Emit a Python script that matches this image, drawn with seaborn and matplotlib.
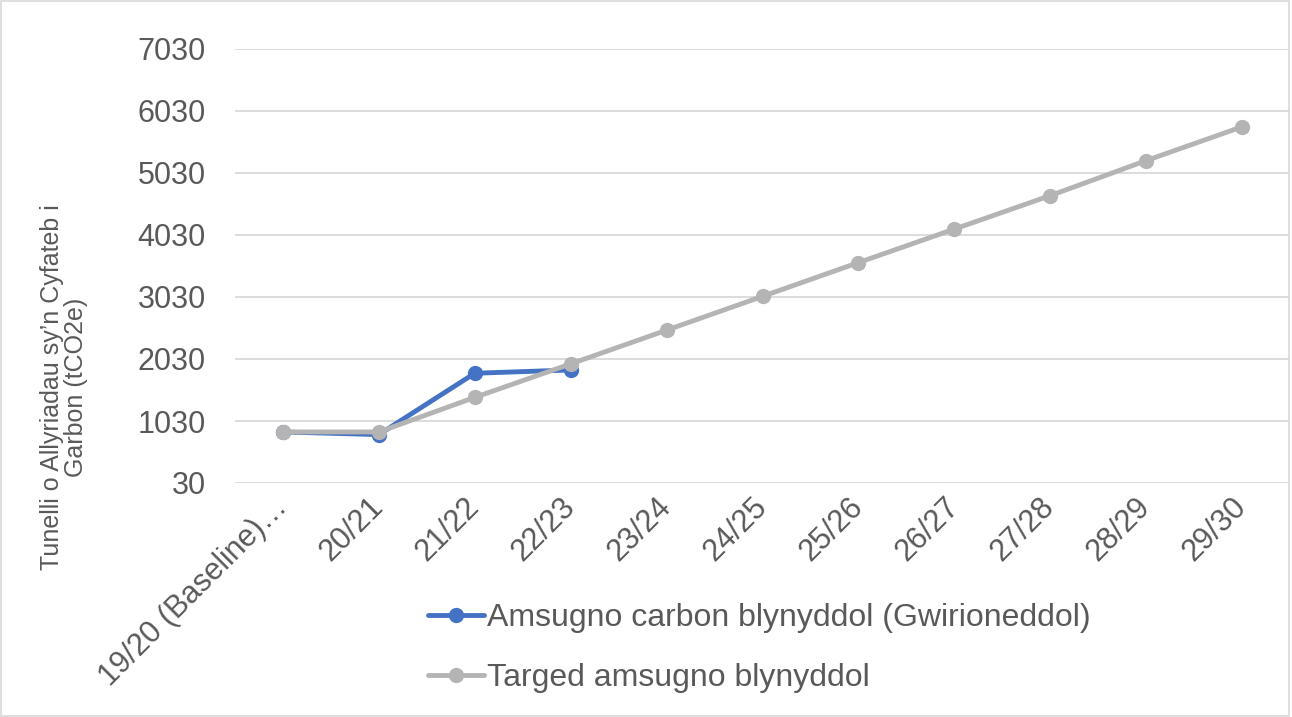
import matplotlib.pyplot as plt
import seaborn as sns
import pandas as pd
from matplotlib.patches import Rectangle

# Data
years = ['19/20 (Baseline)…', '20/21', '21/22', '22/23', '23/24', '24/25',
         '25/26', '26/27', '27/28', '28/29', '29/30']
actual = [853, 811, 1800, 1853]
target = [853, 853, 1411, 1951, 2495, 3040, 3585, 4125, 4665, 5230, 5775]

yticks = [30, 1030, 2030, 3030, 4030, 5030, 6030, 7030]

lbl_actual = 'Amsugno carbon blynyddol (Gwirioneddol)'
lbl_target = 'Targed amsugno blynyddol'

df_actual = pd.DataFrame({'idx': range(len(actual)), 'val': actual})
df_target = pd.DataFrame({'idx': range(len(target)), 'val': target})

sns.set_style('white')
plt.rcParams['font.family'] = ['Liberation Sans', 'DejaVu Sans']

txt = '#595959'
blue = '#4472C4'
grey = '#B4B4B4'
fs = 22

fig = plt.figure(figsize=(12.92, 7.17), dpi=100)
ax = fig.add_axes([235 / 1292, 1 - 483 / 717, 1055 / 1292, 434 / 717])

sns.lineplot(data=df_actual, x='idx', y='val', ax=ax, color=blue, lw=3.5,
             marker='o', markersize=11, markeredgewidth=0, label=lbl_actual)
sns.lineplot(data=df_target, x='idx', y='val', ax=ax, color=grey, lw=3.5,
             marker='o', markersize=11, markeredgewidth=0, label=lbl_target)

ax.set_xlim(-0.5, len(years) - 0.5)
ax.set_ylim(30, 7030)
ax.set_yticks(yticks)
ax.set_yticklabels([str(v) for v in yticks], fontsize=fs, color=txt)
ax.set_xticks(range(len(years)))
ax.set_xticklabels(years, fontsize=fs, color=txt, rotation=45,
                   ha='right', va='center', rotation_mode='anchor')
ax.tick_params(axis='both', length=0)
ax.tick_params(axis='y', pad=21)
ax.tick_params(axis='x', pad=14)
ax.grid(axis='y', color='#D9D9D9', lw=1.3)
ax.set_axisbelow(True)
for s in ax.spines.values():
    s.set_visible(False)

ax.set_xlabel('')
ax.set_ylabel('Tunelli o Allyriadau sy’n Cyfateb i\nGarbon (tCO2e)',
              fontsize=18, color=txt, linespacing=1.0)
ax.yaxis.set_label_coords(-0.139, 0.22)

ax.get_legend().remove()
handles, labels = ax.get_legend_handles_labels()
fig.legend(handles, labels, loc='upper left', bbox_to_anchor=(428 / 1292, 1 - 603 / 717),
           frameon=False, fontsize=23, labelcolor=txt, handlelength=1.75,
           handletextpad=0.1, labelspacing=0.95, borderpad=0, borderaxespad=0)

fig.patches.append(Rectangle((0.001, 0.001), 0.997, 0.997, transform=fig.transFigure,
                             fill=False, edgecolor='#D9D9D9', lw=1.2))

fig.savefig('out.png', dpi=100)
